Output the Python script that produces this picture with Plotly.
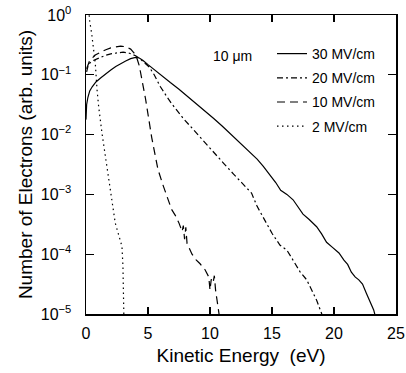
import plotly.graph_objects as go

# ---- data ----
x30 = [0.0, 0.05, 0.15, 0.3, 0.5, 0.8, 1.2, 1.6, 2.0, 2.4, 2.8, 3.2, 3.6, 4.0, 4.3, 4.6, 5.0,
       5.4, 5.8, 6.2, 6.8, 7.5, 8.2, 9.0, 9.7, 10.3, 11.0, 11.6, 12.4, 13.2, 13.8, 14.3, 14.8,
       15.3, 15.7, 16.2, 16.7, 17.1, 17.5, 18.0, 18.6, 19.0, 19.4, 19.9, 20.4, 20.8, 21.1,
       21.4, 21.7, 22.0, 22.3, 22.6, 22.9, 23.2, 23.35]
y30 = [0.0178, 0.0316, 0.0417, 0.0537, 0.0631, 0.0759, 0.0891, 0.105, 0.120, 0.138, 0.155,
       0.170, 0.186, 0.195, 0.191, 0.174, 0.148, 0.126, 0.107, 0.0912, 0.0741, 0.0575, 0.0437,
       0.0316, 0.0240, 0.0186, 0.0138, 0.0105, 0.00724, 0.00501, 0.00389, 0.00295, 0.00219,
       0.00158, 0.00117, 0.00100, 0.000813, 0.000631, 0.000468, 0.000380, 0.000288, 0.000219,
       0.000158, 0.000129, 0.000105, 7.94e-5, 6.76e-5, 5.01e-5, 4.17e-5, 3.72e-5, 3.16e-5,
       2.24e-5, 1.58e-5, 1.17e-5, 8.9e-6]

x20 = [0.05, 0.2, 0.5, 1.0, 1.5, 2.0, 2.5, 3.0, 3.5, 4.0, 4.4, 4.8, 5.1, 5.5, 6.0, 6.5, 6.9,
       7.85, 8.9, 10.0, 11.1, 11.9, 12.7, 13.35, 13.8, 14.4, 15.0, 15.65, 16.2, 16.7, 17.25,
       17.8, 18.2, 18.6, 19.0, 19.1]
y20 = [0.112, 0.151, 0.170, 0.191, 0.209, 0.224, 0.234, 0.240, 0.229, 0.209, 0.182, 0.155,
       0.135, 0.100, 0.0631, 0.0437, 0.0331, 0.0186, 0.0105, 0.00589, 0.00331, 0.00219,
       0.00145, 0.00105, 0.000631, 0.000372, 0.000224, 0.000141, 0.000117, 7.94e-5, 5.13e-5,
       3.72e-5, 2.51e-5, 1.70e-5, 1.02e-5, 7.9e-6]

x10 = [0.05, 0.3, 0.75, 1.2, 1.6, 2.0, 2.4, 2.8, 3.2, 3.6, 3.9, 4.1, 4.3, 4.5, 4.8, 5.3, 5.8,
       6.2, 6.6, 6.9, 7.2, 7.5, 7.75, 7.85, 7.95, 8.05, 8.15, 8.3, 8.55, 8.9, 9.2, 9.6, 9.9,
       10.0, 10.1, 10.25, 10.35, 10.45, 10.6, 10.75, 10.8]
y10 = [0.126, 0.174, 0.214, 0.240, 0.263, 0.282, 0.295, 0.302, 0.295, 0.269, 0.229, 0.191,
       0.141, 0.0891, 0.0398, 0.00891, 0.00263, 0.00145, 0.000851, 0.000562, 0.000447,
       0.000331, 0.000240, 0.000302, 0.000178, 0.000282, 0.000151, 0.000132, 0.0001, 7.94e-5,
       6.92e-5, 5.5e-5, 4.17e-5, 2.51e-5, 3.8e-5, 3.31e-5, 4.37e-5, 2.51e-5, 1.58e-5, 1.0e-5,
       7.9e-6]

x2 = [0.22, 0.3, 0.45, 0.6, 0.75, 0.89, 1.02, 1.29, 1.56, 1.83, 2.1, 2.36, 2.5, 2.7, 2.9,
      2.98, 3.04, 3.06]
y2 = [1.2, 0.79, 0.5, 0.282, 0.155, 0.0562, 0.0295, 0.0105, 0.00427, 0.00174, 0.000708,
      0.000331, 0.000263, 0.000191, 0.000135, 6.31e-5, 1.17e-5, 7.9e-6]

series_names = ["30 MV/cm", "20 MV/cm", "10 MV/cm", "2 MV/cm"]
x_ticks = [0, 5, 10, 15, 20, 25]
y_tickvals = [1, 0.1, 0.01, 0.001, 0.0001, 0.00001]
y_ticktext = ["10<sup>0</sup>", "10<sup>\u22121</sup>", "10<sup>\u22122</sup>",
              "10<sup>\u22123</sup>", "10<sup>\u22124</sup>", "10<sup>\u22125</sup>"]

FONT = "Liberation Sans, Arial, Helvetica, sans-serif"

fig = go.Figure()
styles = ["solid", "6px,3px,2px,3px", "8px,5px", "1.5px,3.5px"]
for i, (xs, ys) in enumerate([(x30, y30), (x20, y20), (x10, y10), (x2, y2)]):
    fig.add_trace(go.Scatter(
        x=xs, y=ys, mode="lines", name=series_names[i], legendgroup=f"g{i}",
        line=dict(color="black", width=1.2, dash=styles[i]),
    ))

fig.add_annotation(x=11.8, y=-0.69, xref="x", yref="y", text="10 \u03bcm",
                   showarrow=False, font=dict(family=FONT, size=14, color="black"))

axis_common = dict(showline=True, linecolor="black", linewidth=1.5, mirror="ticks",
                   ticks="inside", tickcolor="black", tickwidth=1.2, showgrid=False,
                   zeroline=False, automargin=False,
                   tickfont=dict(family=FONT, size=16, color="black"))

fig.update_xaxes(range=[0, 25], tickvals=x_ticks, ticklen=7, ticklabelstandoff=4,
                 title=dict(text="Kinetic Energy\u00a0 (eV)", font=dict(family=FONT, size=19, color="black"),
                            standoff=8),
                 **axis_common)
fig.update_yaxes(type="log", range=[-5, 0], tickvals=y_tickvals, ticktext=y_ticktext, ticklen=8,
                 ticklabelstandoff=10,
                 title=dict(text="Number of Electrons (arb. units)",
                            font=dict(family=FONT, size=19, color="black"), standoff=3),
                 **axis_common)

fig.update_layout(
    width=406, height=373,
    margin=dict(l=86, r=10, t=15, b=59),
    paper_bgcolor="white", plot_bgcolor="white",
    showlegend=True,
    legend=dict(x=0.6, y=0.923, xanchor="left", yanchor="top", bgcolor="rgba(0,0,0,0)",
                font=dict(family=FONT, size=14, color="black"), tracegroupgap=3,
                itemwidth=30),
    font=dict(family=FONT, color="black"),
)

fig.write_html("out.html", config={"displayModeBar": False, "staticPlot": True},
               post_script="document.body.style.margin='0';document.body.style.padding='0';")
